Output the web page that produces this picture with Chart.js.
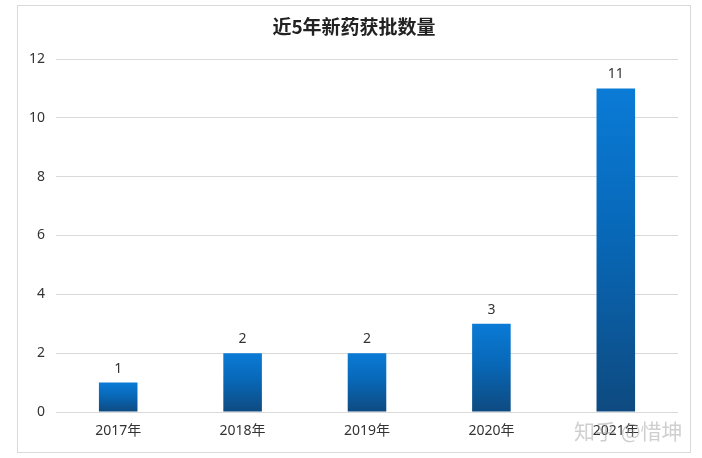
<!DOCTYPE html>
<html>
<head>
<meta charset="utf-8">
<script src="https://cdn.jsdelivr.net/npm/chart.js@4.4.1/dist/chart.umd.min.js"></script>
<style>
  html, body { margin: 0; padding: 0; background: #fff; }
  #wrap { width: 702px; height: 458px; }
</style>
</head>
<body>
<div id="wrap"><canvas id="approvals"></canvas></div>
<script>
// dados do gráfico
var chartTitle = '近5年新药获批数量';
var years = ['2017年', '2018年', '2019年', '2020年', '2021年'];
var approved = [1, 2, 2, 3, 11];
var yTicks = [0, 2, 4, 6, 8, 10, 12];

var fontFamily = '"Noto Sans", "Noto Sans CJK SC", sans-serif';

// moldura, título, rótulos de valor e marca d'água
var decorPlugin = {
  id: 'decor',
  beforeDraw: function(chart) {
    var c = chart.ctx;
    c.save();
    c.fillStyle = '#fff';
    c.fillRect(0, 0, chart.width, chart.height);
    c.strokeStyle = '#d9d9d9';
    c.lineWidth = 1;
    c.strokeRect(17.5, 5.5, 673, 447);
    // título centralizado na moldura
    c.font = 'bold 19px "Noto Sans CJK SC", sans-serif';
    c.fillStyle = '#222';
    c.textAlign = 'center';
    c.textBaseline = 'middle';
    c.fillText(chartTitle, 354, 27);
    c.restore();
  },
  afterDatasetsDraw: function(chart) {
    var c = chart.ctx;
    var meta = chart.getDatasetMeta(0);
    c.save();
    c.font = '14px ' + fontFamily;
    c.fillStyle = '#333';
    c.textAlign = 'center';
    c.textBaseline = 'bottom';
    meta.data.forEach(function(bar, i) {
      c.fillText(String(approved[i]), bar.x, bar.y - 7);
    });
    c.restore();
  },
  afterDraw: function(chart) {
    var c = chart.ctx;
    c.save();
    c.font = '21px "Noto Sans CJK SC", sans-serif';
    c.fillStyle = 'rgba(160,160,160,0.5)';
    c.textAlign = 'left';
    c.textBaseline = 'middle';
    c.fillText('知乎 @惜坤', 574, 431);
    c.restore();
  }
};

// gradiente de cada barra (claro em cima, escuro embaixo)
function barGradient(context) {
  var chart = context.chart;
  if (!chart.chartArea) return '#0a78d0';
  var yScale = chart.scales.y;
  var top = yScale.getPixelForValue(context.raw);
  var bottom = yScale.getPixelForValue(0);
  var g = chart.ctx.createLinearGradient(0, top, 0, bottom);
  g.addColorStop(0, '#0a7bd6');
  g.addColorStop(0.45, '#0868b8');
  g.addColorStop(1, '#0e4a80');
  return g;
}

var ctx = document.getElementById('approvals').getContext('2d');
var chartApprovals = new Chart(ctx, {
  type: 'bar',
  data: {
    labels: years,
    datasets: [{
      data: approved,
      backgroundColor: barGradient,
      borderWidth: 0,
      categoryPercentage: 1,
      barPercentage: 0.31
    }]
  },
  options: {
    responsive: true,
    maintainAspectRatio: false,
    animation: false,
    layout: { padding: { left: 0, right: 24, top: 59, bottom: 0 } },
    plugins: {
      legend: { display: false },
      tooltip: { enabled: false },
      title: { display: false }
    },
    scales: {
      x: {
        grid: { display: false, drawTicks: false },
        border: { display: false },
        ticks: { color: '#333', font: { family: fontFamily, size: 14 }, padding: 11 },
        afterFit: function(scale) { scale.height = 46; }
      },
      y: {
        min: 0,
        max: 12,
        afterBuildTicks: function(scale) {
          scale.ticks = yTicks.map(function(v) { return { value: v }; });
        },
        grid: { color: '#d9d9d9', drawTicks: false },
        border: { display: false },
        ticks: { color: '#333', font: { family: fontFamily, size: 14 }, padding: 11 },
        afterFit: function(scale) { scale.width = 56; }
      }
    }
  },
  plugins: [decorPlugin]
});
</script>
</body>
</html>
